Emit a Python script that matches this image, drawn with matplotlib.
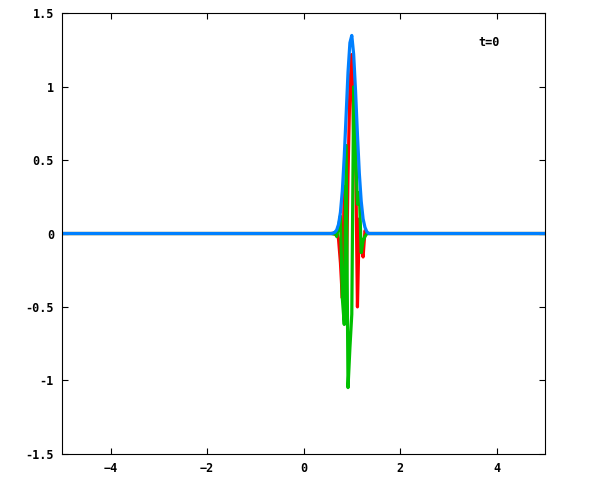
import matplotlib
matplotlib.use('Agg')
import matplotlib.pyplot as plt

# wave packet at t=0
x = [-5.0, 0.564, 0.603, 0.642, 0.681, 0.720, 0.759, 0.798, 0.838, 0.877, 0.916,
     0.955, 0.994, 1.033, 1.072, 1.111, 1.150, 1.189, 1.228, 1.267, 1.306, 1.345, 5.0]
re_psi = [0.0, 0.0, 0.002, -0.006, 0.01, -0.04, -0.20, -0.44, 0.32, -0.45, 0.40,
          1.00, 1.22, 0.65, 0.58, -0.50, 0.10, -0.10, -0.16, 0.02, 0.0, 0.0, 0.0]
im_psi = [0.0, 0.0, -0.003, 0.008, -0.02, 0.05, 0.12, -0.44, -0.62, 0.60, -1.05,
          -0.78, -0.55, 1.00, 0.58, 0.20, 0.28, -0.13, -0.05, -0.02, 0.0, 0.0, 0.0]
abs_psi = [0.0, 0.0, 0.002, 0.008, 0.024, 0.063, 0.145, 0.29, 0.525, 0.81, 1.10,
           1.30, 1.35, 1.22, 0.97, 0.675, 0.41, 0.22, 0.10, 0.042, 0.012, 0.0, 0.0]

label_text = 't=0'

fig = plt.figure(figsize=(6, 4.8), dpi=100)
ax = fig.add_axes([0.1038, 0.055, 0.8050, 0.917])

lw = 2.3
ax.plot(x, re_psi, color='#ff0000', lw=lw)
ax.plot(x, im_psi, color='#00c000', lw=lw)
ax.plot(x, abs_psi, color='#0080ff', lw=lw)

ax.set_xlim(-5, 5)
ax.set_ylim(-1.5, 1.5)
ax.set_xticks([-4, -2, 0, 2, 4])
ax.set_yticks([-1.5, -1, -0.5, 0, 0.5, 1, 1.5])
ax.set_yticklabels(['-1.5', '-1', '-0.5', '0', '0.5', '1', '1.5'])

# gnuplot look: inward ticks mirrored on all sides, bold mono labels
ax.tick_params(direction='in', length=4, width=0.8, top=True, right=True,
               labelsize=8.5, pad=6)
for lab in ax.get_xticklabels() + ax.get_yticklabels():
    lab.set_fontfamily('DejaVu Sans Mono')
    lab.set_fontweight('bold')
for sp in ax.spines.values():
    sp.set_linewidth(0.8)

ax.text(3.84, 1.30, label_text, fontsize=8.5, fontfamily='DejaVu Sans Mono',
        fontweight='bold', ha='center', va='center')

fig.savefig('out.png', dpi=100)
